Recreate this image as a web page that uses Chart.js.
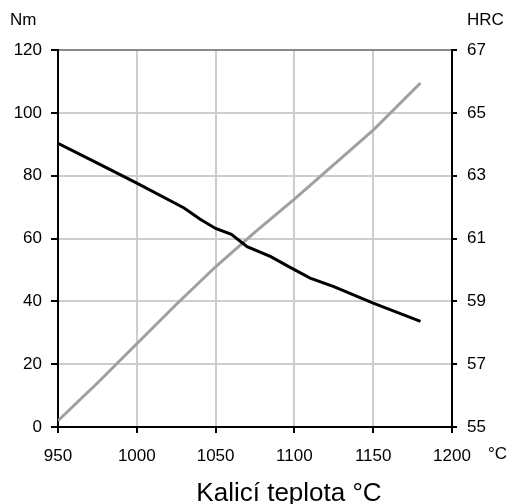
<!DOCTYPE html>
<html>
<head>
<meta charset="utf-8">
<script src="https://cdn.jsdelivr.net/npm/chart.js@4.4.0/dist/chart.umd.min.js"></script>
<style>
  body { margin: 0; background: #fff; }
  canvas { display: block; }
</style>
</head>
<body>
<canvas id="chart" width="510" height="504"></canvas>
<script>
// ===== Data =====
const torqueTemps = [950, 975, 1000, 1030, 1040, 1050, 1060, 1070, 1085, 1097, 1110, 1125, 1150, 1180];
const torqueNm = [90.3, 84, 77.6, 69.7, 66.2, 63.2, 61.3, 57.4, 54.2, 50.9, 47.4, 44.7, 39.4, 33.6];

const hardTemps = [950, 975, 1000, 1025, 1050, 1075, 1100, 1125, 1150, 1180];
const hardHRC = [55.2, 56.4, 57.65, 58.9, 60.1, 61.2, 62.25, 63.35, 64.45, 65.95];

const xTicks = [950, 1000, 1050, 1100, 1150, 1200];
const nmTicks = [0, 20, 40, 60, 80, 100, 120];
const hrcTicks = [55, 57, 59, 61, 63, 65, 67];

const FONT = "'Liberation Sans', Arial, sans-serif";
const tickFont = { family: FONT, size: 17 };

// extra labels: Nm, HRC, °C and x title
const extraText = {
  id: "extraText",
  afterDraw(chart) {
    const c = chart.ctx;
    c.save();
    c.fillStyle = "#000";
    c.textBaseline = "middle";
    c.font = "17px " + FONT;
    c.textAlign = "left";
    c.fillText("Nm", 10, 20);
    c.fillText("HRC", 467, 20);
    c.fillText("°C", 488, 454);
    c.font = "26px " + FONT;
    c.textAlign = "center";
    c.textBaseline = "alphabetic";
    c.fillText("Kalicí teplota °C", 289, 501);
    c.restore();
  },
};

const ctx = document.getElementById("chart");
new Chart(ctx, {
  type: "line",
  data: {
    datasets: [
      {
        label: "Nm",
        data: torqueTemps.map((t, i) => ({ x: t, y: torqueNm[i] })),
        borderColor: "#000",
        borderWidth: 3,
        pointRadius: 0,
        yAxisID: "y",
      },
      {
        label: "HRC",
        data: hardTemps.map((t, i) => ({ x: t, y: hardHRC[i] })),
        borderColor: "#a0a0a0",
        borderWidth: 3,
        pointRadius: 0,
        yAxisID: "y1",
      },
    ],
  },
  options: {
    responsive: false,
    animation: false,
    layout: { padding: { top: 50, left: 0, right: 0, bottom: 0 } },
    plugins: { legend: { display: false }, tooltip: { enabled: false } },
    scales: {
      x: {
        type: "linear",
        min: 950,
        max: 1200,
        afterBuildTicks: (s) => { s.ticks = xTicks.map((v) => ({ value: v })); },
        afterFit: (s) => { s.height = 77; },
        grid: { color: "#cdcdcd", lineWidth: 2, tickColor: "#000", tickLength: 6 },
        border: { color: "#000", width: 2 },
        ticks: { color: "#000", font: tickFont, padding: 13, maxRotation: 0, callback: (v) => String(v) },
      },
      y: {
        position: "left",
        min: 0,
        max: 120,
        afterBuildTicks: (s) => { s.ticks = nmTicks.map((v) => ({ value: v })); },
        afterFit: (s) => { s.width = 58; },
        grid: {
          color: (c) => (c.tick && c.tick.value === 120 ? "#8a8a8a" : "#cdcdcd"),
          lineWidth: 2,
          tickColor: "#000",
          tickLength: 7,
        },
        border: { color: "#000", width: 2 },
        ticks: { color: "#000", font: tickFont, padding: 9, callback: (v) => String(v) },
      },
      y1: {
        position: "right",
        min: 55,
        max: 67,
        afterBuildTicks: (s) => { s.ticks = hrcTicks.map((v) => ({ value: v })); },
        afterFit: (s) => { s.width = 58; },
        grid: { drawOnChartArea: false, tickColor: "#000", tickLength: 5, lineWidth: 2 },
        border: { color: "#000", width: 2 },
        ticks: { color: "#000", font: tickFont, padding: 10, callback: (v) => String(v) },
      },
    },
  },
  plugins: [extraText],
});
</script>
</body>
</html>
